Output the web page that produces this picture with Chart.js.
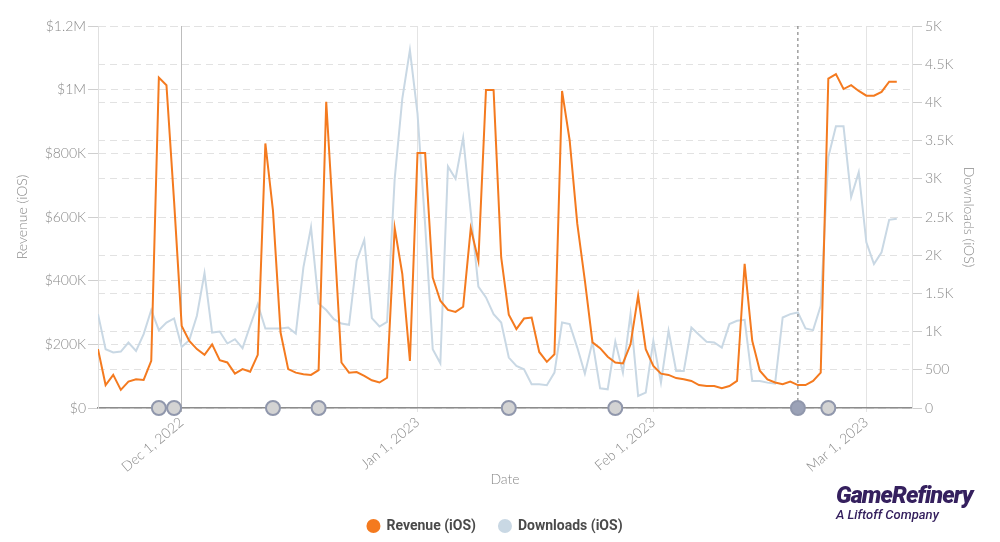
<!DOCTYPE html>
<html>
<head>
<meta charset="utf-8">
<script src="https://cdn.jsdelivr.net/npm/chart.js@4.4.1/dist/chart.umd.min.js"></script>
<style>
  html, body { margin: 0; padding: 0; background: #fff; }
  #wrap { position: relative; width: 1000px; height: 542px; overflow: hidden; }
  #logo { position: absolute; left: 836px; top: 482px; color: #35205e; font-family: Roboto, sans-serif; font-style: italic; }
  #logo .name { font-weight: 900; font-size: 23.5px; letter-spacing: -0.9px; line-height: 26px; }
  #logo .sub { font-weight: 500; font-size: 13px; line-height: 14px; }
</style>
</head>
<body>
<div id="wrap">
  <canvas id="chart" width="1000" height="542"></canvas>
  <div id="logo"><div class="name">GameRefinery</div><div class="sub">A Liftoff Company</div></div>
</div>
<script>
// day index 0 = Nov 20, 2022 ... 105 = Mar 5, 2023
const revenueK = [
  185, 72, 104, 57, 83, 90, 88, 148, 1038, 1014,
  650, 258, 211, 185, 167, 200, 150, 143, 108, 122,
  114, 167, 831, 620, 237, 122, 111, 106, 104, 119,
  962, 560, 143, 111, 113, 101, 87, 80, 95, 565,
  421, 148, 801, 801, 410, 337, 308, 302, 318, 565,
  463, 999, 999, 473, 293, 248, 281, 284, 176, 145,
  169, 996, 841, 579, 400, 206, 188, 161, 143, 140,
  200, 353, 185, 132, 108, 104, 94, 90, 85, 72,
  69, 69, 62, 69, 85, 453, 211, 117, 90, 80,
  75, 83, 72, 72, 85, 111, 1035, 1049, 1002, 1014,
  996, 981, 981, 993, 1025, 1025
];
const downloads = [
  1229, 770, 726, 739, 857, 748, 967, 1282, 1019, 1119,
  1172, 800, 888, 1207, 1767, 988, 1001, 844, 901, 783,
  1076, 1360, 1041, 1041, 1041, 1054, 975, 1841, 2366, 1369,
  1282, 1163, 1106, 1089, 1929, 2200, 1177, 1067, 1128, 3000,
  4050, 4684, 3853, 2400, 770, 586, 3162, 3000, 3538, 2563,
  1588, 1447, 1229, 1119, 660, 551, 507, 311, 311, 298,
  463, 1119, 1098, 791, 450, 866, 258, 245, 870, 463,
  1229, 157, 201, 879, 332, 1010, 485, 485, 1054, 958,
  866, 857, 791, 1098, 1141, 1155, 354, 354, 332, 319,
  1185, 1229, 1251, 1041, 1019, 1338, 3284, 3687, 3687, 2760,
  3087, 2169, 1885, 2038, 2463, 2476
];
const monthTickDays = [11, 42, 73, 101];
const monthTickLabels = ['Dec 1, 2022', 'Jan 1, 2023', 'Feb 1, 2023', 'Mar 1, 2023'];
const eventDays = [8, 10, 23, 29, 54, 68, 92, 96];
const highlightDay = 92;

const ORANGE = '#f47a1f';
const BLUE = '#c9d8e4';
const TICK_FONT = { family: 'Lato, sans-serif', size: 14, weight: '300' };

const fmtRevenue = v => {
  if (v === 0) return '$0';
  if (v >= 1000000) return '$' + (v / 1000000) + 'M';
  return '$' + (v / 1000) + 'K';
};
const fmtDownloads = v => (v >= 1000 ? (v / 1000) + 'K' : String(v));

const eventMarkers = {
  id: 'eventMarkers',
  afterDatasetsDraw(chart) {
    const { ctx, chartArea, scales: { x } } = chart;
    const base = chartArea.bottom;
    ctx.save();
    const hx = x.getPixelForValue(highlightDay);
    ctx.strokeStyle = '#6f6f6f';
    ctx.lineWidth = 1;
    ctx.setLineDash([3, 3]);
    ctx.beginPath();
    ctx.moveTo(hx, chartArea.top);
    ctx.lineTo(hx, base);
    ctx.stroke();
    ctx.setLineDash([]);
    eventDays.forEach(d => {
      const px = x.getPixelForValue(d);
      ctx.beginPath();
      ctx.arc(px, base, 7, 0, Math.PI * 2);
      ctx.fillStyle = d === highlightDay ? '#9ba2b7' : '#d3d3d3';
      ctx.fill();
      ctx.lineWidth = 2;
      ctx.strokeStyle = '#9097ac';
      ctx.stroke();
    });
    ctx.restore();
  }
};

const canvas = document.getElementById('chart');
const chart = new Chart(canvas, {
  type: 'line',
  data: {
    datasets: [
      {
        label: 'Revenue (iOS)',
        data: revenueK.map((v, i) => ({ x: i, y: v * 1000 })),
        borderColor: ORANGE,
        backgroundColor: ORANGE,
        borderWidth: 2,
        pointRadius: 0,
        tension: 0,
        yAxisID: 'y'
      },
      {
        label: 'Downloads (iOS)',
        data: downloads.map((v, i) => ({ x: i, y: v })),
        borderColor: BLUE,
        backgroundColor: BLUE,
        borderWidth: 2,
        pointRadius: 0,
        tension: 0,
        yAxisID: 'y1'
      }
    ]
  },
  plugins: [eventMarkers],
  options: {
    responsive: false,
    animation: false,
    layout: { padding: { top: 26, left: 0, right: 10, bottom: -1 } },
    plugins: {
      tooltip: { enabled: false },
      legend: {
        position: 'bottom',
        labels: {
          usePointStyle: true,
          pointStyle: 'circle',
          boxWidth: 12,
          boxHeight: 8.5,
          padding: 23,
          color: '#4a4a4a',
          font: { family: 'Roboto, sans-serif', size: 14, weight: 'bold' }
        }
      }
    },
    scales: {
      x: {
        type: 'linear',
        min: 0,
        max: 107,
        afterBuildTicks: s => { s.ticks = monthTickDays.map(v => ({ value: v })); },
        afterFit: s => { s.height = 88; },
        ticks: {
          autoSkip: false,
          minRotation: 40,
          maxRotation: 40,
          padding: 2,
          color: '#8a8a8a',
          font: TICK_FONT,
          callback: v => monthTickLabels[monthTickDays.indexOf(v)]
        },
        grid: {
          color: c => (c.tick && c.tick.value === 11 ? '#bdbdbd' : '#e4e4e4'),
          tickLength: 4
        },
        border: { display: true, color: '#8c8c8c', width: 1.5 },
        title: {
          display: true,
          text: 'Date',
          color: '#8a8a8a',
          font: TICK_FONT,
          padding: { top: 4, bottom: 8.6 }
        }
      },
      y: {
        position: 'left',
        min: 0,
        max: 1200000,
        afterFit: s => { s.width = 98; },
        ticks: { stepSize: 200000, padding: 2, color: '#8a8a8a', font: TICK_FONT, callback: fmtRevenue },
        grid: { color: '#e2e2e2', tickColor: '#cfcfcf', tickLength: 10, tickBorderDash: [] },
        border: { display: true, color: '#e0e0e0', dash: [7, 5] },
        title: { display: true, text: 'Revenue (iOS)', color: '#8a8a8a', font: TICK_FONT, padding: { top: 14, bottom: 0 } }
      },
      y1: {
        position: 'right',
        min: 0,
        max: 5000,
        afterFit: s => { s.width = 78; },
        ticks: { stepSize: 500, padding: 3, color: '#8a8a8a', font: TICK_FONT, callback: fmtDownloads },
        grid: { color: '#e2e2e2', tickColor: '#cfcfcf', tickLength: 10, tickBorderDash: [] },
        border: { display: true, color: '#e0e0e0', dash: [7, 5] },
        title: { display: true, text: 'Downloads (iOS)', color: '#8a8a8a', font: TICK_FONT, padding: { top: 13, bottom: 0 } }
      }
    }
  }
});
</script>
</body>
</html>
